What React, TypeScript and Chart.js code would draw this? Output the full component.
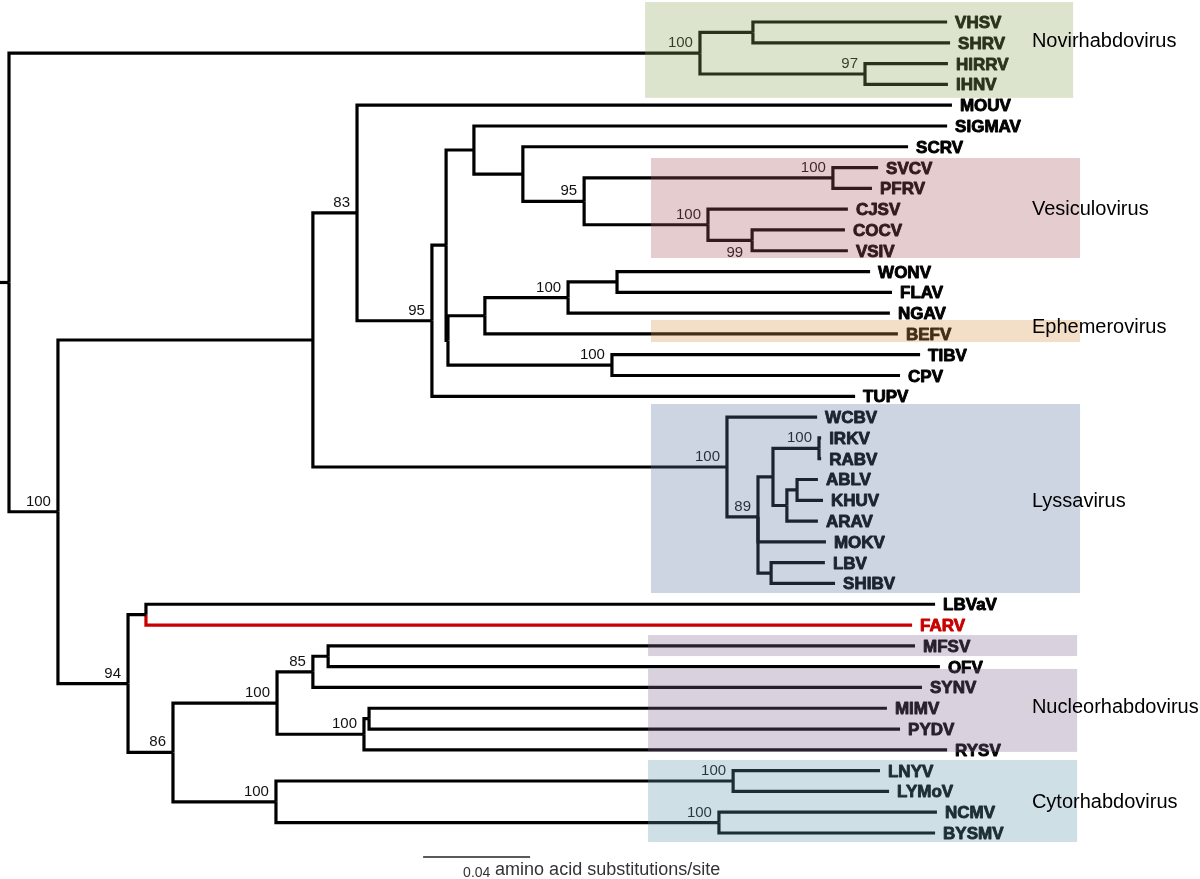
import React, { useEffect, useRef } from 'react';
import { Chart, registerables } from 'chart.js';

Chart.register(...registerables);

// ---------- DATA (branch depths in amino acid substitutions/site) ----------
const taxa = [
  'VHSV', 'SHRV', 'HIRRV', 'IHNV', 'MOUV', 'SIGMAV', 'SCRV', 'SVCV', 'PFRV', 'CJSV',
  'COCV', 'VSIV', 'WONV', 'FLAV', 'NGAV', 'BEFV', 'TIBV', 'CPV', 'TUPV', 'WCBV',
  'IRKV', 'RABV', 'ABLV', 'KHUV', 'ARAV', 'MOKV', 'LBV', 'SHIBV', 'LBVaV', 'FARV',
  'MFSV', 'OFV', 'SYNV', 'MIMV', 'PYDV', 'RYSV', 'LNYV', 'LYMoV', 'NCMV', 'BYSMV',
];
const tipDepth = [
  0.3507, 0.3518, 0.3510, 0.3510, 0.3525, 0.3507, 0.3361, 0.3249, 0.3226, 0.3136,
  0.3125, 0.3136, 0.3219, 0.3301, 0.3293, 0.3323, 0.3406, 0.3331, 0.3163, 0.3021,
  0.3036, 0.3036, 0.3024, 0.3043, 0.3024, 0.3054, 0.3050, 0.3088, 0.3462, 0.3376,
  0.3387, 0.3480, 0.3413, 0.3282, 0.3331, 0.3507, 0.3256, 0.3290, 0.3469, 0.3462,
];
const tipParent = [
  2, 2, 3, 3, 6, 9, 10, 12, 12, 13,
  14, 14, 18, 18, 17, 16, 19, 19, 7, 20,
  23, 23, 25, 25, 24, 21, 26, 26, 28, 28,
  32, 32, 31, 34, 34, 33, 36, 36, 37, 37,
];
const nodeDepth = [
  0, 0.2583, 0.2781, 0.3200, 0.0183, 0.1136, 0.1301, 0.1581, 0.1634, 0.1738,
  0.1921, 0.2150, 0.3080, 0.2613, 0.2778, 0.1641, 0.1779, 0.2090, 0.2273, 0.2254,
  0.2684, 0.2800, 0.2856, 0.3028, 0.2908, 0.2946, 0.2849, 0.0445, 0.0512, 0.0613,
  0.1002, 0.1136, 0.1193, 0.1327, 0.1346, 0.0998, 0.2707, 0.2654,
];
const nodeParent = [
  -1, 0, 1, 1, 0, 4, 5, 6, 7, 8,
  9, 10, 11, 11, 13, 8, 15, 16, 17, 15,
  5, 20, 21, 22, 22, 24, 21, 4, 27, 27,
  29, 30, 31, 30, 33, 29, 35, 35,
];
const nodeSupport: (number | null)[] = [
  null, 100, null, 97, 100, null, 83, 95, null, null,
  null, 95, 100, 100, 99, null, null, 100, null, 100,
  100, 89, null, 100, null, null, null, 94, null, 86,
  100, 85, null, 100, null, 100, 100, 100,
];
// vertical position read from the picture where it is not the midpoint of the children
const nodeRowOverride: (number | null)[] = nodeDepth.map((_, i) => (i === 21 ? 23.8 : null));

const highlightTaxon = 'FARV';
const groupNames = ['Novirhabdovirus', 'Vesiculovirus', 'Ephemerovirus', 'Lyssavirus', 'Nucleorhabdovirus', 'Cytorhabdovirus'];
const scaleBarValue = 0.04;
const scaleBarUnit = 'amino acid substitutions/site';

// ---------- LAYOUT / STYLE ----------
const W = 1200;
const H = 879;
const PX_PER_UNIT = 2675;
const ROOT_PX = 9;
const ROW0_PX = 22;
const ROW_PX = 20.795;
const RED = '#c80000';
const FONT = '"Liberation Sans", Arial, Helvetica, sans-serif';

// shaded boxes: rows (top, bottom) and depth (left, right), overlay colour
const boxes = [
  { r0: -0.96, r1: 3.65, d0: 0.2378, d1: 0.3978, color: 'rgba(142,165,88,0.3)' },
  { r0: 6.54, r1: 11.35, d0: 0.2400, d1: 0.4004, color: 'rgba(169,85,92,0.3)' },
  { r0: 14.33, r1: 15.39, d0: 0.2400, d1: 0.4004, color: 'rgba(215,145,72,0.3)' },
  { r0: 18.37, r1: 27.46, d0: 0.2400, d1: 0.4004, color: 'rgba(88,115,162,0.3)' },
  { r0: 29.48, r1: 30.49, d0: 0.2389, d1: 0.3993, color: 'rgba(128,105,145,0.3)' },
  { r0: 31.11, r1: 35.10, d0: 0.2389, d1: 0.3993, color: 'rgba(128,105,145,0.3)' },
  { r0: 35.49, r1: 39.43, d0: 0.2389, d1: 0.3993, color: 'rgba(92,148,172,0.3)' },
];
const groupLabelRows = [0.87, 8.94, 14.6, 23.0, 32.9, 37.45];
const groupLabelDepth = 0.3824;
const supportBelow = new Set([14]);
const scaleBarStartDepth = 0.1548;
const scaleBarRow = 40.15;

// ---------- tree geometry ----------
function computeRows(): number[] {
  const kids: number[][] = nodeDepth.map(() => []);
  nodeParent.forEach((p, i) => { if (p >= 0) kids[p].push(-(i + 1)); });
  tipParent.forEach((p, i) => { kids[p].push(i); });
  const rows: number[] = nodeDepth.map(() => NaN);
  const rowOf = (k: number): number => (k >= 0 ? k : nodeRow(-k - 1));
  function nodeRow(n: number): number {
    if (!isNaN(rows[n])) return rows[n];
    const rs = kids[n].map(rowOf);
    const o = nodeRowOverride[n];
    rows[n] = o != null ? o : (Math.min(...rs) + Math.max(...rs)) / 2;
    return rows[n];
  }
  nodeDepth.forEach((_, i) => nodeRow(i));
  return rows;
}

export default function App() {
  const ref = useRef<HTMLCanvasElement | null>(null);

  useEffect(() => {
    if (!ref.current) return;
    const nodeRow = computeRows();
    const datasets: any[] = [];
    const seg = (pts: { x: number; y: number }[], color: string) => ({
      data: pts,
      showLine: true,
      borderColor: color,
      backgroundColor: color,
      borderWidth: 3.2,
      pointRadius: 0,
      pointHoverRadius: 0,
      tension: 0,
      borderJoinStyle: 'miter',
      borderCapStyle: 'butt',
      clip: false,
    });
    // root stub
    datasets.push(seg([{ x: -ROOT_PX / PX_PER_UNIT, y: nodeRow[0] }, { x: 0, y: nodeRow[0] }], '#000'));
    nodeParent.forEach((p, i) => {
      if (p < 0) return;
      datasets.push(seg([
        { x: nodeDepth[p], y: nodeRow[p] },
        { x: nodeDepth[p], y: nodeRow[i] },
        { x: nodeDepth[i], y: nodeRow[i] },
      ], '#000'));
    });
    const redSets: any[] = [];
    tipParent.forEach((p, i) => {
      const red = taxa[i] === highlightTaxon;
      const d = seg([
        { x: nodeDepth[p], y: nodeRow[p] },
        { x: nodeDepth[p], y: i },
        { x: tipDepth[i], y: i },
      ], red ? RED : '#000');
      if (red) redSets.push(d); else datasets.push(d);
    });
    datasets.push(...redSets);

    const decor = {
      id: 'treeDecor',
      afterDatasetsDraw(chart: any) {
        const { ctx } = chart;
        const xs = chart.scales.x;
        const ys = chart.scales.y;
        ctx.save();
        // tip labels (heavy bold)
        ctx.font = `bold 17px ${FONT}`;
        ctx.textAlign = 'left';
        ctx.textBaseline = 'alphabetic';
        ctx.lineWidth = 0.9;
        ctx.lineJoin = 'round';
        taxa.forEach((t, i) => {
          const c = t === highlightTaxon ? RED : '#000';
          ctx.fillStyle = c;
          ctx.strokeStyle = c;
          const tx = xs.getPixelForValue(tipDepth[i]) + 8;
          const ty = ys.getPixelForValue(i) + 6;
          ctx.fillText(t, tx, ty);
          ctx.strokeText(t, tx, ty);
        });
        // support values
        ctx.font = `15px ${FONT}`;
        ctx.fillStyle = '#111';
        ctx.textAlign = 'right';
        nodeSupport.forEach((s, i) => {
          if (s == null) return;
          const px = xs.getPixelForValue(nodeDepth[i]);
          const py = ys.getPixelForValue(nodeRow[i]);
          if (supportBelow.has(i)) {
            ctx.textBaseline = 'top';
            ctx.fillText(String(s), px - 9, py + 5);
          } else {
            ctx.textBaseline = 'alphabetic';
            ctx.fillText(String(s), px - 7, py - 6);
          }
        });
        // shaded boxes (overlay)
        boxes.forEach((b) => {
          const x0 = xs.getPixelForValue(b.d0);
          const x1 = xs.getPixelForValue(b.d1);
          const y0 = ys.getPixelForValue(b.r0);
          const y1 = ys.getPixelForValue(b.r1);
          ctx.fillStyle = b.color;
          ctx.fillRect(x0, y0, x1 - x0, y1 - y0);
        });
        // group labels
        ctx.font = `20px ${FONT}`;
        ctx.fillStyle = '#000';
        ctx.textAlign = 'left';
        ctx.textBaseline = 'alphabetic';
        groupNames.forEach((g, i) => {
          ctx.fillText(g, xs.getPixelForValue(groupLabelDepth), ys.getPixelForValue(groupLabelRows[i]) + 7);
        });
        // scale bar
        const bx0 = xs.getPixelForValue(scaleBarStartDepth);
        const bx1 = xs.getPixelForValue(scaleBarStartDepth + scaleBarValue);
        const by = ys.getPixelForValue(scaleBarRow);
        ctx.strokeStyle = '#222';
        ctx.lineWidth = 1.5;
        ctx.beginPath();
        ctx.moveTo(bx0, by);
        ctx.lineTo(bx1, by);
        ctx.stroke();
        ctx.fillStyle = '#333';
        ctx.font = `14px ${FONT}`;
        ctx.fillText(String(scaleBarValue), bx0 + 40, by + 20);
        ctx.font = `18px ${FONT}`;
        ctx.fillText(scaleBarUnit, bx0 + 72, by + 18);
        ctx.restore();
      },
    };

    const chart = new Chart(ref.current, {
      type: 'scatter',
      data: { datasets },
      options: {
        responsive: false,
        animation: false,
        devicePixelRatio: 1,
        layout: { padding: 0 },
        plugins: { legend: { display: false }, tooltip: { enabled: false }, title: { display: false } },
        events: [],
        scales: {
          x: {
            type: 'linear',
            display: false,
            min: -ROOT_PX / PX_PER_UNIT,
            max: (W - ROOT_PX) / PX_PER_UNIT,
          },
          y: {
            type: 'linear',
            display: false,
            reverse: true,
            min: -ROW0_PX / ROW_PX,
            max: (H - ROW0_PX) / ROW_PX,
          },
        },
      } as any,
      plugins: [decor],
    });
    return () => chart.destroy();
  }, []);

  return (
    <div style={{ position: 'absolute', left: 0, top: 0, width: W, height: H, background: '#fff' }}>
      <canvas ref={ref} width={W} height={H} style={{ display: 'block' }} />
    </div>
  );
}
